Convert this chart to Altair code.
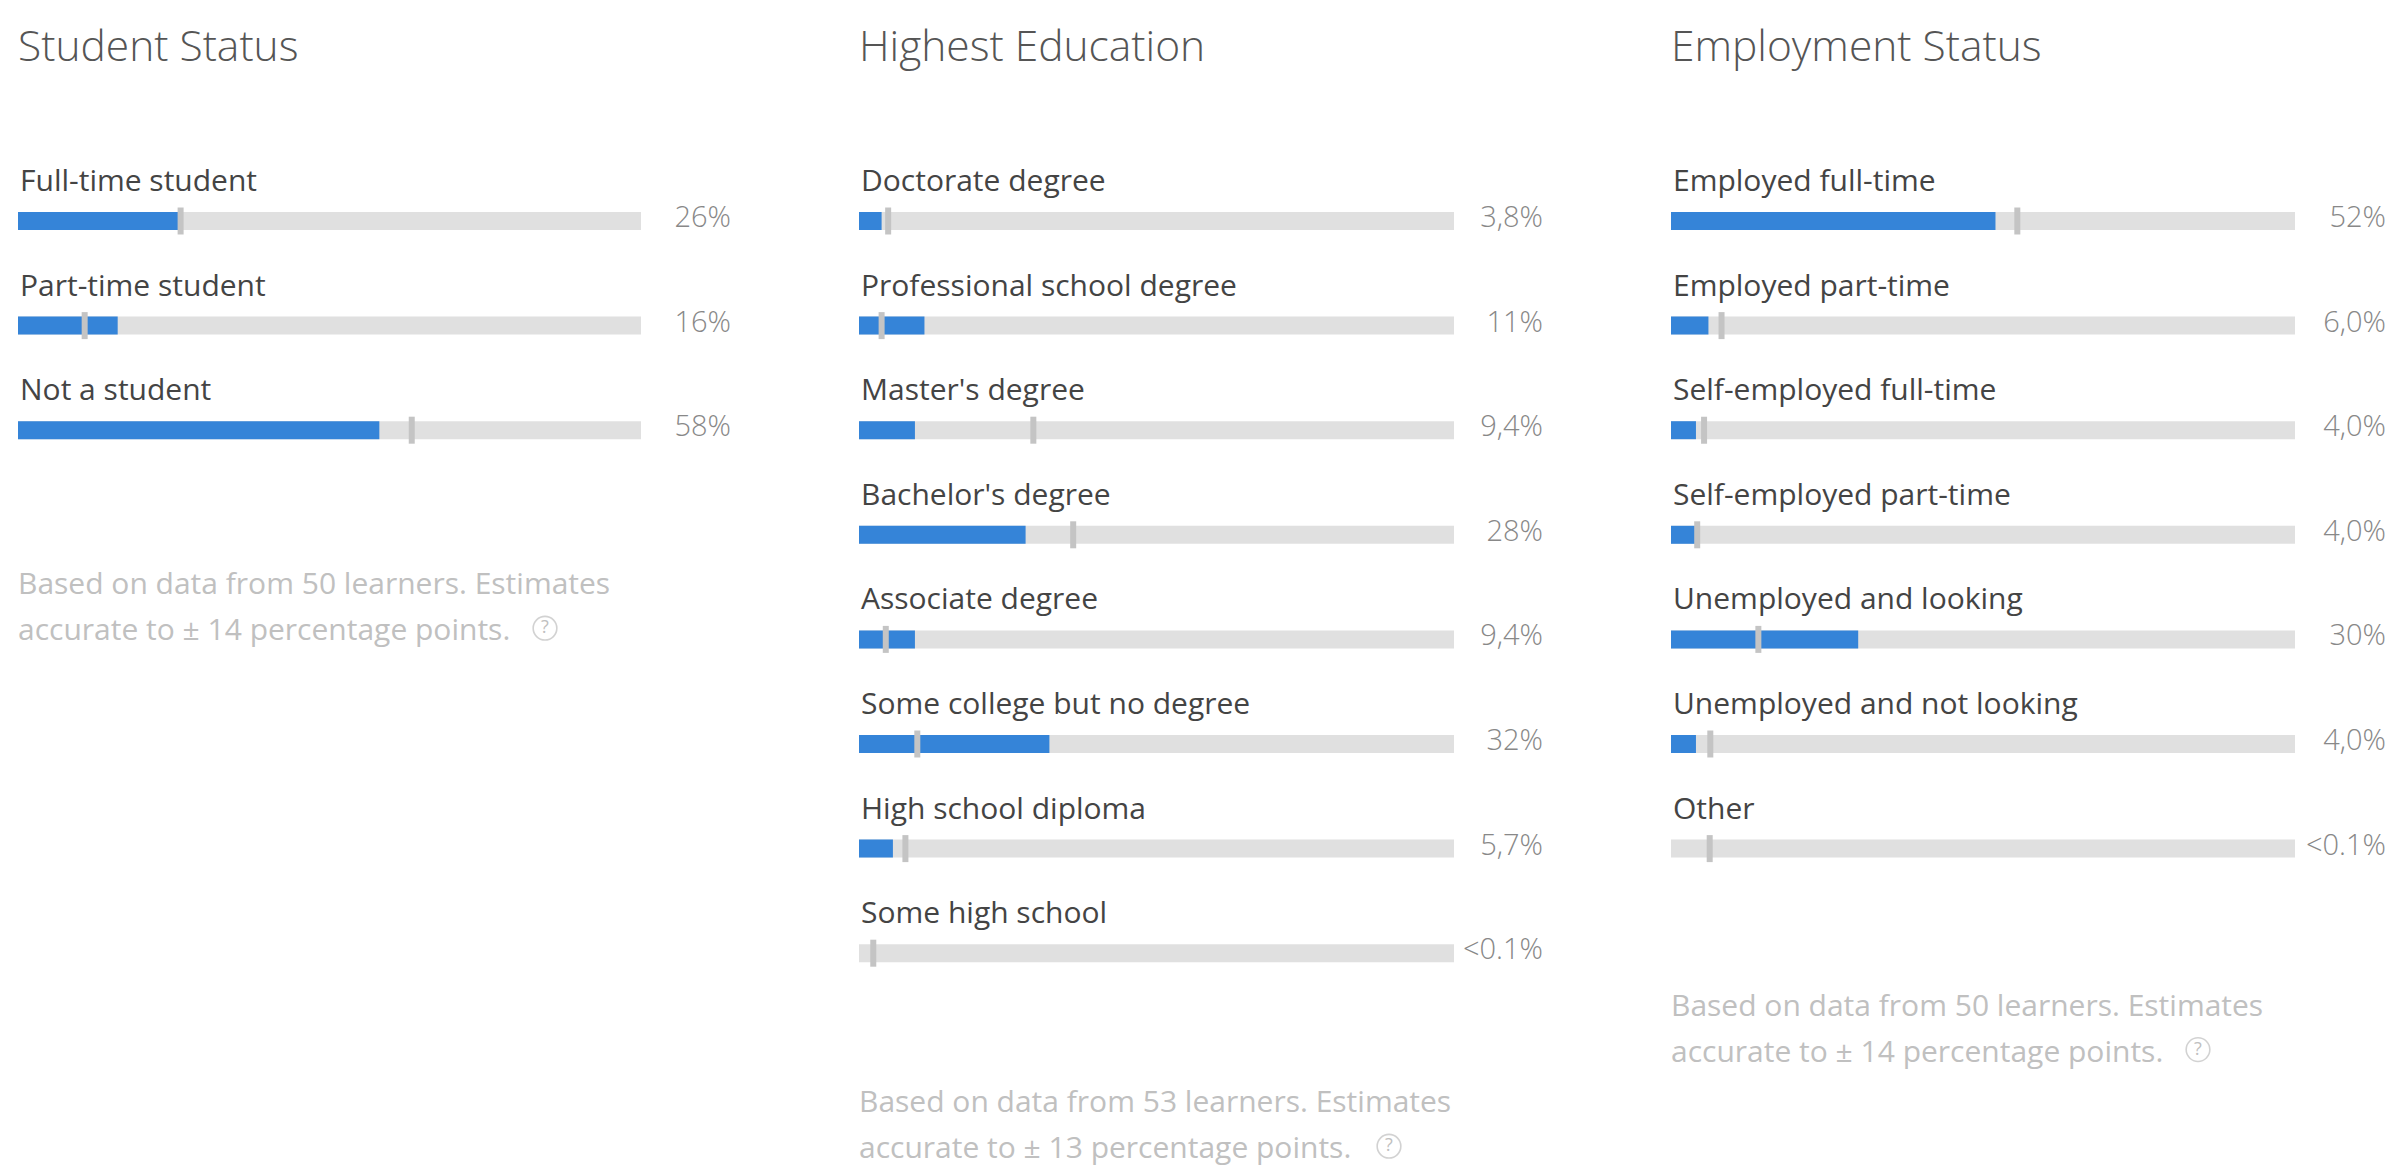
import altair as alt
import pandas as pd

# ---------------- data ----------------
student_title = "Student Status"
student_cats = ["Full-time student", "Part-time student", "Not a student"]
student_vals = [26, 16, 58]
student_bench = [26.1, 10.7, 63.2]
student_labels = ["26%", "16%", "58%"]
student_foot = ["Based on data from 50 learners. Estimates", "accurate to \u00b1 14 percentage points."]

edu_title = "Highest Education"
edu_cats = ["Doctorate degree", "Professional school degree", "Master's degree",
            "Bachelor's degree", "Associate degree", "Some college but no degree",
            "High school diploma", "Some high school"]
edu_vals = [3.8, 11, 9.4, 28, 9.4, 32, 5.7, 0]
edu_bench = [4.9, 3.8, 29.3, 36.0, 4.5, 9.8, 7.8, 2.4]
edu_labels = ["3,8%", "11%", "9,4%", "28%", "9,4%", "32%", "5,7%", "<0.1%"]
edu_foot = ["Based on data from 53 learners. Estimates", "accurate to \u00b1 13 percentage points."]

emp_title = "Employment Status"
emp_cats = ["Employed full-time", "Employed part-time", "Self-employed full-time",
            "Self-employed part-time", "Unemployed and looking",
            "Unemployed and not looking", "Other"]
emp_vals = [52, 6.0, 4.0, 4.0, 30, 4.0, 0]
emp_bench = [55.5, 8.1, 5.3, 4.2, 14.0, 6.3, 6.2]
emp_labels = ["52%", "6,0%", "4,0%", "4,0%", "30%", "4,0%", "<0.1%"]
emp_foot = ["Based on data from 50 learners. Estimates", "accurate to \u00b1 14 percentage points."]

# ---------------- style ----------------
FONT = "Open Sans"
BLUE = "#3584d8"
TRACK = "#e0e0e0"
MARK = "#c4c4c4"
FOOT = "#c0c0c0"
ROW0 = 119
STEP = 104.6
PLOT_H = 1064


def panel(title, cats, vals, bench, labels, foot, width, track_w, icon_x, gap):
    n = len(cats)
    df = pd.DataFrame({
        "cat": cats, "value": vals, "bench": bench, "label": labels,
        "row": list(range(n)), "zero": [0] * n, "full": [100] * n,
    })
    xs = alt.Scale(domain=[0, 100], range=[0, track_w])
    ys = alt.Scale(domain=[0, 1], range=[ROW0, ROW0 + STEP], nice=False, zero=False)
    y = alt.Y("row:Q", scale=ys, axis=None)
    base = alt.Chart(df)

    track = base.mark_rule(strokeWidth=18, color=TRACK).encode(
        x=alt.X("zero:Q", scale=xs, axis=None), x2="full:Q", y=y)
    bar = base.mark_rule(strokeWidth=18, color=BLUE).encode(
        x=alt.X("zero:Q", scale=xs, axis=None), x2="value:Q", y=y)
    tick = base.mark_tick(orient="vertical", thickness=6, size=27, color=MARK, opacity=1).encode(
        x=alt.X("bench:Q", scale=xs, axis=None), y=y)
    lab = base.mark_text(align="left", baseline="alphabetic", dy=-30, dx=2,
                         fontSize=30, font=FONT, color="#444").encode(
        x=alt.value(0), y=y, text="cat:N")
    pct = base.mark_text(align="right", baseline="middle", dy=-3,
                         fontSize=29, font=FONT, fontWeight=300, color="#888").encode(
        x=alt.value(width), y=y, text="label:N")

    fy1 = ROW0 + STEP * (n - 1) + gap
    fy2 = fy1 + 46
    fdf = pd.DataFrame({"t1": [foot[0]], "t2": [foot[1]]})
    fbase = alt.Chart(fdf)
    f1 = fbase.mark_text(align="left", baseline="middle", fontSize=30, font=FONT,
                         color=FOOT).encode(x=alt.value(0), y=alt.value(fy1), text="t1:N")
    f2 = fbase.mark_text(align="left", baseline="middle", fontSize=30, font=FONT,
                         color=FOOT).encode(x=alt.value(0), y=alt.value(fy2), text="t2:N")
    icon = fbase.mark_point(shape="circle", size=560, filled=False, strokeWidth=1.6,
                            color=FOOT).encode(x=alt.value(icon_x), y=alt.value(fy2 - 3))
    q = fbase.mark_text(align="center", baseline="middle", fontSize=18, font=FONT,
                        color=FOOT).encode(x=alt.value(icon_x), y=alt.value(fy2 - 3),
                                           text=alt.value("?"))

    return alt.layer(track, bar, tick, lab, pct, f1, f2, icon, q).properties(
        width=width, height=PLOT_H,
        title=alt.TitleParams(title, anchor="start", frame="group", fontSize=42.5,
                              font=FONT, fontWeight=300, color="#555", offset=33),
    )


p1 = panel(student_title, student_cats, student_vals, student_bench, student_labels,
           student_foot, 713, 623, 527, 155)
p2 = panel(edu_title, edu_cats, edu_vals, edu_bench, edu_labels,
           edu_foot, 684, 595, 530, 150)
p3 = panel(emp_title, emp_cats, emp_vals, emp_bench, emp_labels,
           emp_foot, 715, 624, 527, 158)

chart = alt.hconcat(p1, p2, p3, spacing=128, bounds="flush").properties(
    padding={"left": 9, "top": 26, "right": 0, "bottom": 0},
    background="white",
).configure_view(stroke=None)

chart.save("out.html", embed_options={"renderer": "svg", "actions": False})
